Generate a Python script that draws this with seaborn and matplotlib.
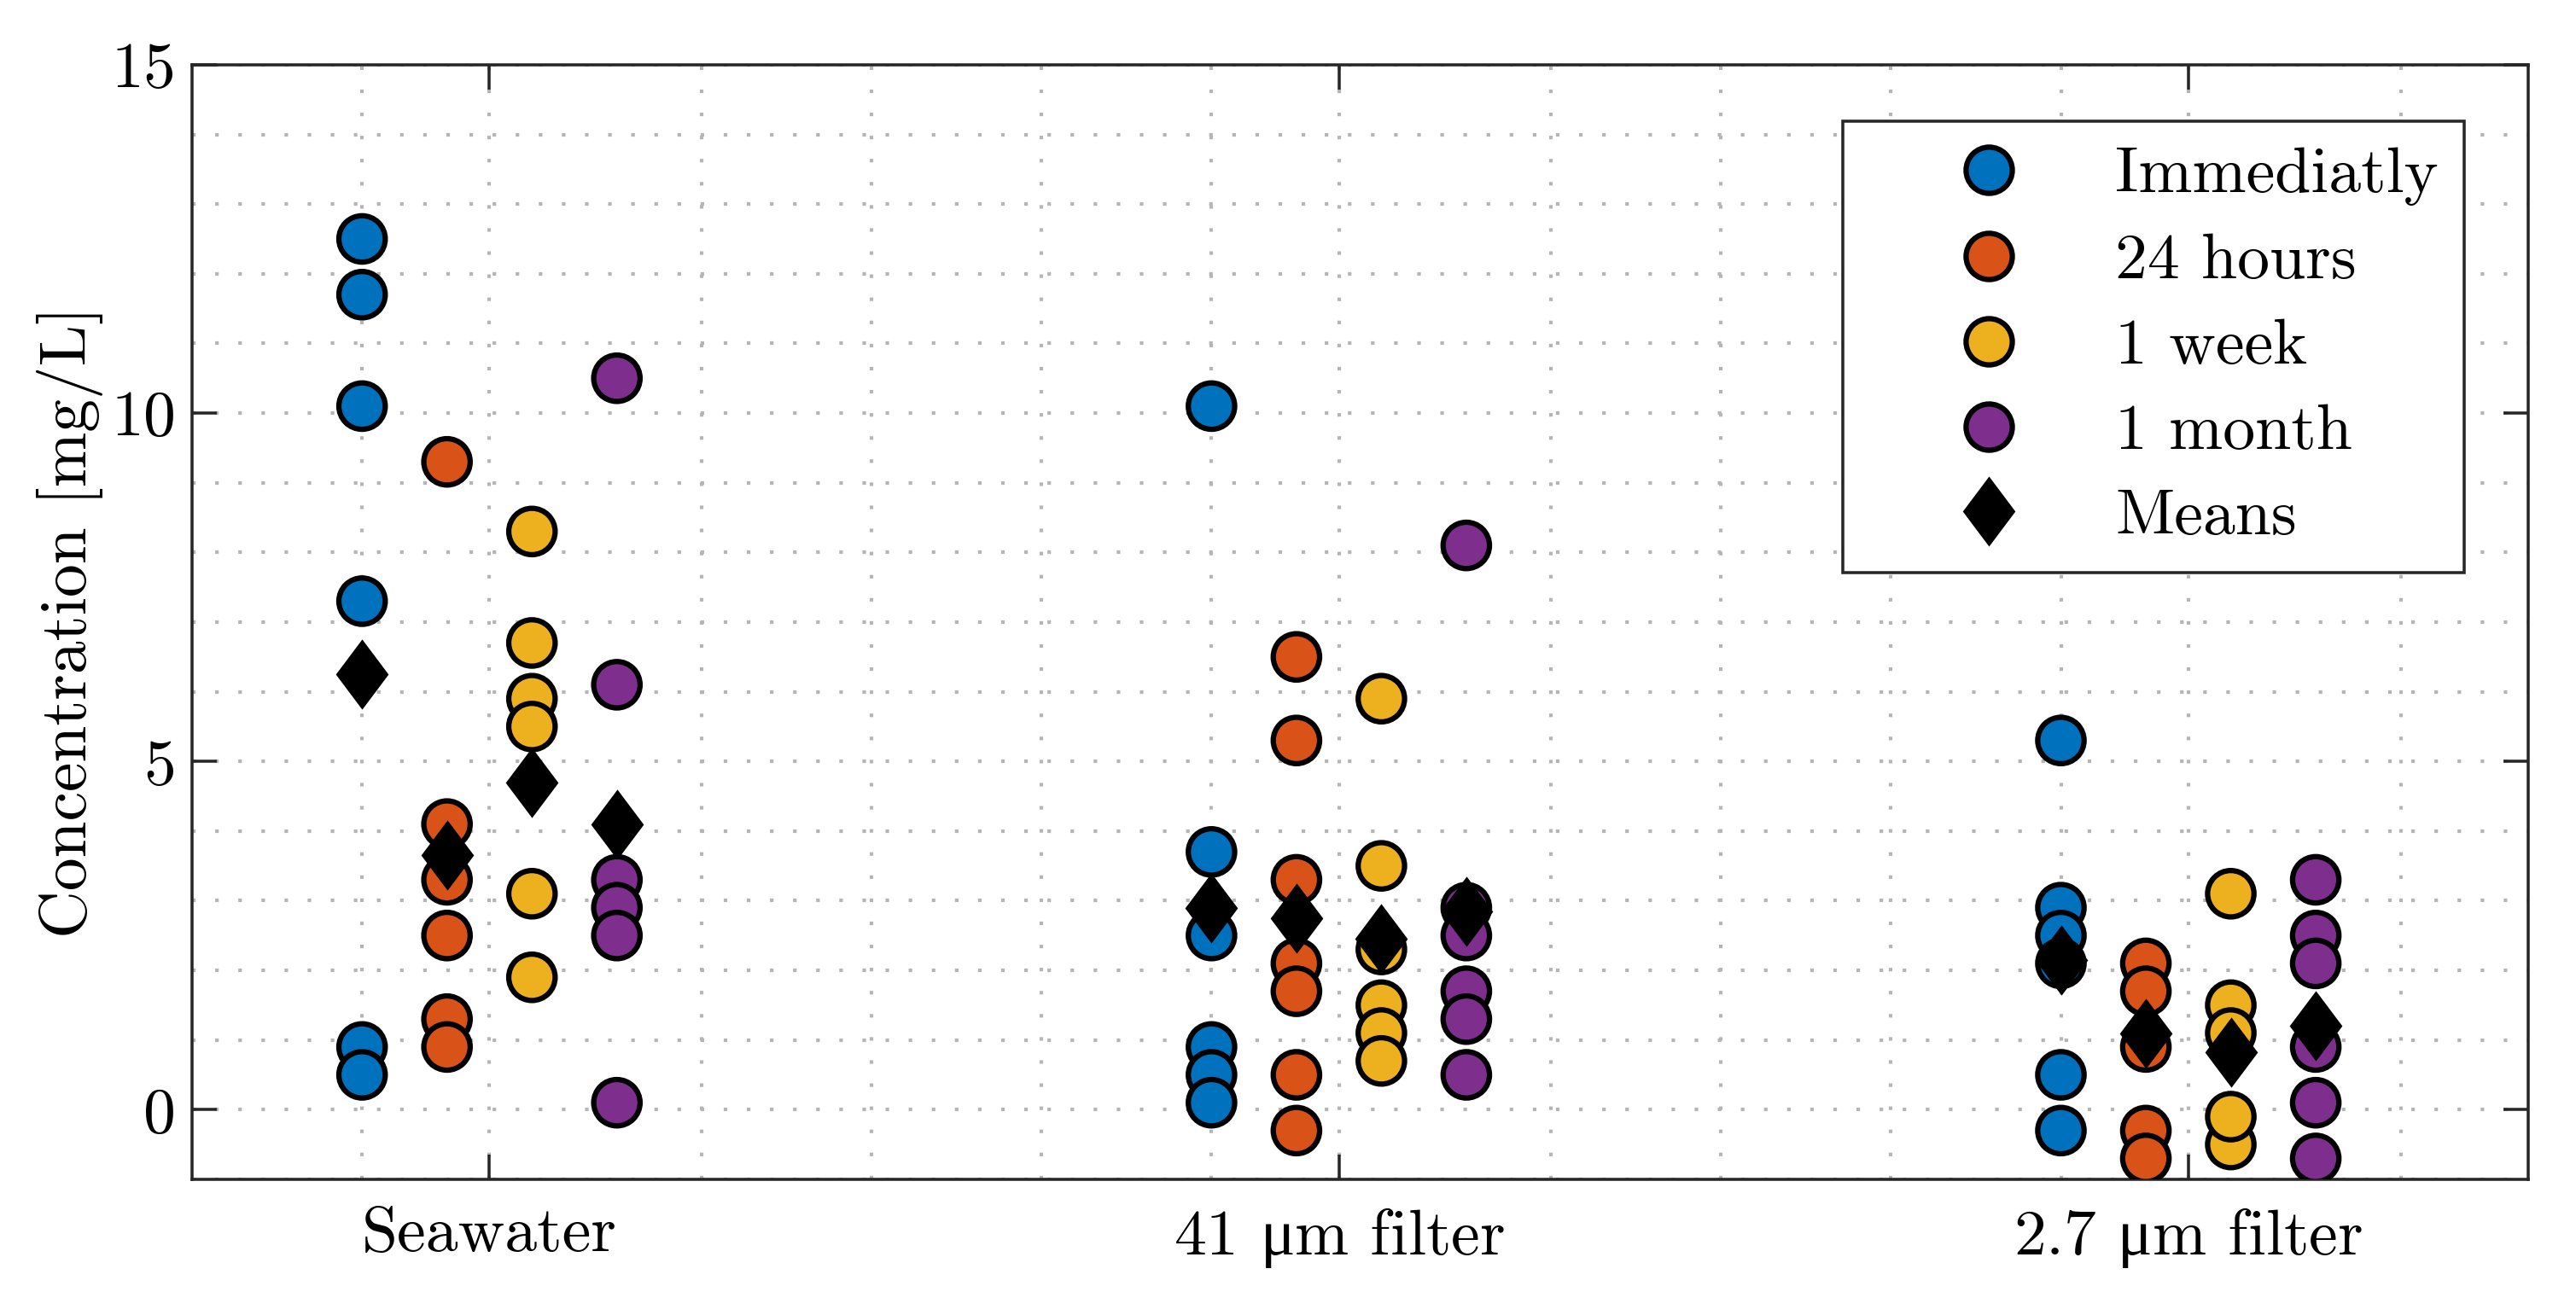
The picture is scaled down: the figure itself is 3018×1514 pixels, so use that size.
import numpy as np
import pandas as pd
import matplotlib
matplotlib.use('Agg')
import matplotlib.pyplot as plt
from matplotlib.lines import Line2D
from matplotlib.path import Path
import seaborn as sns

# --- data ---
categories = ['Seawater', r'41 $\mathrm{\mu}$m filter', r'2.7 $\mathrm{\mu}$m filter']
times = ['Immediatly', '24 hours', '1 week', '1 month']
colors = ['#0072BD', '#D95319', '#EDB120', '#7E2F8E']

immediatly = [[12.5, 11.7, 10.1, 7.3, 0.9, 0.5],
              [10.1, 3.7, 2.5, 0.9, 0.5, 0.1],
              [5.3, 2.9, 2.5, 2.1, 0.5, -0.3]]
hours_24 = [[9.3, 4.1, 3.3, 2.5, 1.3, 0.9],
            [6.5, 5.3, 3.3, 2.1, 1.7, 0.5, -0.3],
            [2.1, 1.7, 0.9, -0.3, -0.7]]
week_1 = [[8.3, 6.7, 5.9, 5.5, 3.1, 1.9],
          [5.9, 3.5, 2.3, 1.5, 1.1, 0.7],
          [3.1, 1.5, 1.1, -0.5, -0.1]]
month_1 = [[10.5, 6.1, 3.3, 2.9, 2.5, 0.1],
           [8.1, 2.9, 2.5, 1.7, 1.3, 0.5],
           [3.3, 2.5, 2.1, 0.9, 0.1, -0.7]]

# means per sample (rows) and time (columns)
means_seawater = [6.25, 3.65, 4.7, 4.1]
means_41 = [2.9, 2.75, 2.45, 2.85]
means_27 = [2.15, 1.1, 0.82, 1.2]

# group offset of each time series around its category
offsets = [-0.15, -0.05, 0.05, 0.15]

rows = []
for ti, series in enumerate([immediatly, hours_24, week_1, month_1]):
    for ci, vals in enumerate(series):
        for v in vals:
            rows.append((categories[ci], times[ti], ci + 1 + offsets[ti], v))
data = pd.DataFrame(rows, columns=['Sample', 'Time', 'x', 'Concentration'])

mrows = []
for ci, mvals in enumerate([means_seawater, means_41, means_27]):
    for ti, m in enumerate(mvals):
        mrows.append((categories[ci], times[ti], ci + 1 + offsets[ti], m))
means = pd.DataFrame(mrows, columns=['Sample', 'Time', 'x', 'Mean'])

plt.rcParams['font.family'] = ['cmr10', 'Liberation Serif']
plt.rcParams['mathtext.fontset'] = 'custom'
plt.rcParams['mathtext.rm'] = 'Liberation Serif'
plt.rcParams['axes.formatter.use_mathtext'] = True
plt.rcParams['font.size'] = 18.2

fig = plt.figure(figsize=(10.06, 5.047), dpi=300)
ax = fig.add_axes([0.0746, 0.0872, 0.9814 - 0.0746, 0.9498 - 0.0872])

diamond = Path([(0, 1), (0.75, 0), (0, -1), (-0.75, 0), (0, 1)],
               [Path.MOVETO, Path.LINETO, Path.LINETO, Path.LINETO, Path.CLOSEPOLY])

sns.scatterplot(data=data, x='x', y='Concentration', hue='Time', hue_order=times,
                palette=colors, s=170, edgecolor='black', linewidth=1.5,
                legend=False, ax=ax, zorder=3)
sns.scatterplot(data=means, x='x', y='Mean', marker=diamond, s=390,
                color='black', edgecolor='black', linewidth=0, legend=False,
                ax=ax, zorder=4)

ax.set_xlim(0.65, 3.4)
ax.set_ylim(-1, 15)
ax.set_xticks([1, 2, 3])
ax.set_xticklabels(categories)
minor_x = [x for x in np.arange(0.85, 3.4, 0.2) if abs(x - round(x)) > 0.06]
ax.set_xticks(minor_x, minor=True)
ax.set_yticks([0, 5, 10, 15])
ax.set_yticks([y for y in range(-1, 16) if y % 5 != 0], minor=True)

ax.set_xlabel('')
ax.set_ylabel('Concentration [mg/L]', fontsize=18.6, labelpad=2)

ax.grid(True, which='both', color='#b5b5b5', linestyle=(0, (1, 5.5)), linewidth=1.0, zorder=0)
ax.set_axisbelow(True)
ax.tick_params(which='major', direction='in', top=True, right=True, length=7,
               width=0.85, color='#262626', pad=5)
ax.tick_params(axis='x', which='major', pad=7.5)
ax.tick_params(which='minor', length=0)
for sp in ax.spines.values():
    sp.set_color('#262626')
    sp.set_linewidth(0.85)

handles = [Line2D([], [], linestyle='none', marker='o', markersize=13,
                  markerfacecolor=c, markeredgecolor='black', markeredgewidth=1.5)
           for c in colors]
handles.append(Line2D([], [], linestyle='none', marker=diamond, markersize=19.7,
                      markerfacecolor='black', markeredgewidth=0))
leg = ax.legend(handles, times + ['Means'], loc='upper right',
                bbox_to_anchor=(0.9726, 0.9495), fancybox=False, framealpha=1,
                edgecolor='#262626', borderpad=0.4, handlelength=3.7,
                handletextpad=0.1, labelspacing=0.42, borderaxespad=0)
leg.get_frame().set_linewidth(0.85)

fig.savefig('out.png', dpi=300)
